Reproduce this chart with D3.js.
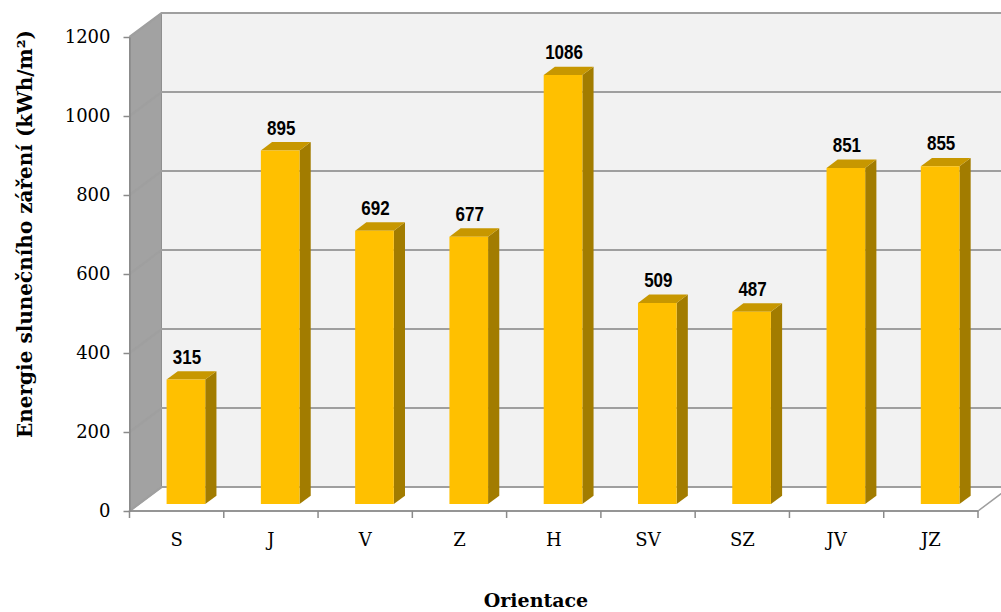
<!DOCTYPE html>
<html>
<head>
<meta charset="utf-8">
<script src="https://cdn.jsdelivr.net/npm/d3@7"></script>
<style>
  body { margin: 0; background: #fff; }
  svg { display: block; }
</style>
</head>
<body>
<svg id="chart" width="1001" height="612"></svg>
<script>
// Annual solar energy by orientation
const categories = ["S", "J", "V", "Z", "H", "SV", "SZ", "JV", "JZ"];
const values = [315, 895, 692, 677, 1086, 509, 487, 851, 855];
const yTicks = [0, 200, 400, 600, 800, 1000, 1200];
const yTitle = "Energie slunečního záření (kWh/m²)";
const xTitle = "Orientace";

const svg = d3.select("#chart");

// front plane of the plot box
const plotLeft = 129.5, plotRight = 978, plotBottom = 511, plotTop = 37;
// oblique offset from front plane to back wall
const depthX = 32, depthY = -24;

const x = d3.scaleBand().domain(categories).range([plotLeft, plotRight]).padding(0);
const y = d3.scaleLinear().domain([0, 1200]).range([plotBottom, plotTop]);

// project a point of the front plane to depth z (0 = front, 1 = back wall)
const P = (px, py, z) => [px + z * depthX, py + z * depthY];
const poly = pts => pts.map(p => p.join(",")).join(" ");

const gridColor = "#9f9f9f";
const axisColor = "#8a8a8a";
const serif = "'DejaVu Serif', serif";

// back wall
svg.append("polygon")
  .attr("points", poly([P(plotLeft, y(1200), 1), P(plotRight, y(1200), 1), P(plotRight, y(0), 1), P(plotLeft, y(0), 1)]))
  .attr("fill", "#f2f2f2");

// side wall
svg.append("polygon")
  .attr("points", poly([P(plotLeft, y(0), 0), P(plotLeft, y(1200), 0), P(plotLeft, y(1200), 1), P(plotLeft, y(0), 1)]))
  .attr("fill", "#a2a2a2")
  .attr("stroke", "#8f8f8f")
  .attr("stroke-width", 1);

// floor
svg.append("polygon")
  .attr("points", poly([P(plotLeft, y(0), 0), P(plotRight, y(0), 0), P(plotRight, y(0), 1), P(plotLeft, y(0), 1)]))
  .attr("fill", "#ffffff")
  .attr("stroke", gridColor)
  .attr("stroke-width", 1.5);

// gridlines across side wall and back wall
svg.append("g").selectAll("polyline")
  .data(yTicks)
  .join("polyline")
  .attr("points", t => poly([P(plotLeft, y(t), 0), P(plotLeft, y(t), 1), P(plotRight, y(t), 1)]))
  .attr("fill", "none")
  .attr("stroke", gridColor)
  .attr("stroke-width", 2.2);

// bars
const zFront = 0.29, zBack = 0.64;
const barW = x.bandwidth() * 0.41;
const bars = svg.append("g").selectAll("g")
  .data(categories.map((c, i) => ({ c, v: values[i] })))
  .join("g");

bars.each(function (d) {
  const g = d3.select(this);
  const xl = x(d.c) + (x.bandwidth() - barW) / 2;
  const xr = xl + barW;
  const yt = y(d.v), yb = y(0);
  // side face
  g.append("polygon")
    .attr("points", poly([P(xr, yb, zFront), P(xr, yt, zFront), P(xr, yt, zBack), P(xr, yb, zBack)]))
    .attr("fill", "#a27c00");
  // top face
  g.append("polygon")
    .attr("points", poly([P(xl, yt, zFront), P(xr, yt, zFront), P(xr, yt, zBack), P(xl, yt, zBack)]))
    .attr("fill", "#c79700");
  // front face
  g.append("polygon")
    .attr("points", poly([P(xl, yt, zFront), P(xr, yt, zFront), P(xr, yb, zFront), P(xl, yb, zFront)]))
    .attr("fill", "#ffc000");
  // value label, condensed bold sans
  const [lx, ly] = P((xl + xr) / 2 + 1, yt - 16, zFront);
  g.append("text")
    .attr("transform", `translate(${lx},${ly}) scale(0.85,1)`)
    .attr("text-anchor", "middle")
    .attr("font-family", "'Liberation Sans', Arial, sans-serif")
    .attr("font-weight", "bold")
    .attr("font-size", 20)
    .attr("fill", "#000")
    .text(d.v);
});

// y axis
const yAxis = svg.append("g")
  .attr("transform", `translate(${plotLeft},0)`)
  .call(d3.axisLeft(y).tickValues(yTicks).tickSize(6).tickSizeOuter(0).tickPadding(13).tickFormat(d3.format("d")));
yAxis.select(".domain").attr("stroke", axisColor).attr("stroke-width", 1.5);
yAxis.selectAll(".tick line").attr("stroke", axisColor).attr("stroke-width", 1.5);
yAxis.selectAll("text")
  .attr("font-family", serif)
  .attr("font-size", 18)
  .attr("fill", "#000");

// x axis: category labels at band centres, tick marks at band edges
const xAxis = svg.append("g")
  .attr("transform", `translate(0,${plotBottom})`)
  .call(d3.axisBottom(x).tickSize(0).tickPadding(22));
xAxis.select(".domain").remove();
xAxis.selectAll("text")
  .attr("font-family", serif)
  .attr("font-size", 18)
  .attr("fill", "#000");

svg.append("line")
  .attr("x1", plotLeft).attr("x2", plotRight)
  .attr("y1", plotBottom).attr("y2", plotBottom)
  .attr("stroke", axisColor).attr("stroke-width", 1.5);
svg.append("g").selectAll("line")
  .data(categories.map(c => x(c)).concat([plotRight]))
  .join("line")
  .attr("x1", d => d).attr("x2", d => d)
  .attr("y1", plotBottom).attr("y2", plotBottom + 7)
  .attr("stroke", axisColor).attr("stroke-width", 1.5);

// axis titles
svg.append("text")
  .attr("transform", "translate(32,234) rotate(-90)")
  .attr("text-anchor", "middle")
  .attr("font-family", serif)
  .attr("font-weight", "bold")
  .attr("font-size", 20)
  .attr("fill", "#000")
  .text(yTitle);

svg.append("text")
  .attr("x", 536)
  .attr("y", 607)
  .attr("text-anchor", "middle")
  .attr("font-family", serif)
  .attr("font-weight", "bold")
  .attr("font-size", 19)
  .attr("fill", "#000")
  .text(xTitle);
</script>
</body>
</html>
